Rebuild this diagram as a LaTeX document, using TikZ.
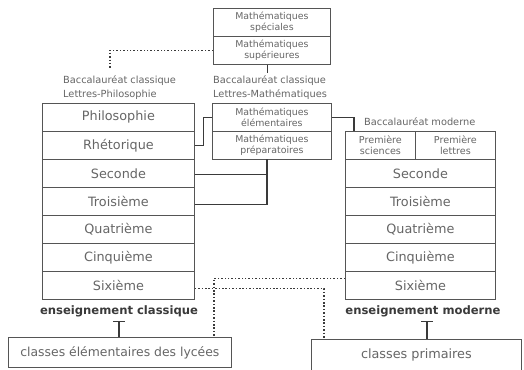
\documentclass[tikz,border=0pt]{standalone}
\usepackage{fontspec}
\setmainfont{DejaVu Sans}
\usetikzlibrary{arrows.meta}
\definecolor{txt}{HTML}{666666}
\definecolor{ln}{HTML}{555555}
\definecolor{dk}{HTML}{3A3A3A}
\begin{document}
\begin{tikzpicture}[x=1pt,y=-1pt,
  cell/.style={draw=ln, line width=0.8pt, minimum height=28pt, inner sep=0pt,
    anchor=north west, text=txt, font=\fontsize{12.8}{14}\selectfont},
  mcell/.style={cell, align=center, font=\fontsize{9.4}{10.8}\selectfont},
  pcell/.style={cell, align=center, font=\fontsize{9.6}{11}\selectfont},
  lbl/.style={text=txt, align=left, inner sep=0pt, font=\fontsize{9.8}{14}\selectfont},
  big/.style={text=dk, inner sep=0pt, font=\fontsize{11.6}{14}\selectfont\bfseries},
  conn/.style={draw=dk, line width=1.3pt},
  dots/.style={draw=dk, line width=1.5pt, dash pattern=on 1.5pt off 1.9pt},
  tee/.style={draw=dk, line width=1.3pt, {Bar[width=12pt,line width=1.3pt]}-}]
\useasboundingbox[fill=white] (0,0) rectangle (524,369);

% top box
\node[mcell, minimum width=117pt] (spec) at (213,8) {Mathématiques\\spéciales};
\node[mcell, minimum width=117pt] (sup) at (213,36) {Mathématiques\\supérieures};

% labels
\node[lbl, anchor=west] (bacL) at (63,88) {Baccalauréat classique\\Lettres-Philosophie};
\node[lbl, anchor=west] (bacM) at (213,88) {Baccalauréat classique\\Lettres-Mathématiques};
\node[lbl, anchor=west] (bacR) at (364,122) {Baccalauréat moderne};

% left (classique) box
\node[cell, minimum width=152pt] (philo) at (42,103) {Philosophie};
\node[cell, minimum width=152pt] (rhet) at (42,131) {Rhétorique};
\node[cell, minimum width=152pt] (secL) at (42,159) {Seconde};
\node[cell, minimum width=152pt] (troisL) at (42,187) {Troisième};
\node[cell, minimum width=152pt] (quatL) at (42,215) {Quatrième};
\node[cell, minimum width=152pt] (cinqL) at (42,243) {Cinquième};
\node[cell, minimum width=152pt] (sixL) at (42,271) {Sixième};

% middle box
\node[mcell, minimum width=119pt] (elem) at (212,103) {Mathématiques\\élémentaires};
\node[mcell, minimum width=119pt] (prep) at (212,131) {Mathématiques\\préparatoires};

% right (moderne) box
\node[pcell, minimum width=70pt] (psci) at (345,131) {Première\\sciences};
\node[pcell, minimum width=80pt] (plet) at (415,131) {Première\\lettres};
\node[cell, minimum width=150pt] (secR) at (345,159) {Seconde};
\node[cell, minimum width=150pt] (troisR) at (345,187) {Troisième};
\node[cell, minimum width=150pt] (quatR) at (345,215) {Quatrième};
\node[cell, minimum width=150pt] (cinqR) at (345,243) {Cinquième};
\node[cell, minimum width=150pt] (sixR) at (345,271) {Sixième};

% section titles
\node[big] (ensC) at (119,311) {enseignement classique};
\node[big] (ensM) at (423,311) {enseignement moderne};

% bottom boxes
\node[cell, minimum width=223pt, minimum height=30pt, font=\fontsize{12.4}{14}\selectfont] (elyc) at (8,337) {classes élémentaires des lycées};
\node[cell, minimum width=210pt, minimum height=32pt] (prim) at (311,339) {classes primaires};

% coordinates
\coordinate (stem) at (267,73);
\coordinate (dl) at (110,68);
\coordinate (pk) at (267,159);
\coordinate (tl) at (119,321);
\coordinate (tr) at (427,321);

% connectors
\draw[conn, line width=1pt] (sup.south -| stem) -- (stem);
\draw[dots] (sup.west) -| (dl);
\draw[conn] (rhet.east) -- ++(9,0) |- (elem.west);
\draw[conn] (pk) |- ([yshift=-3pt]troisL.east);
\draw[conn] ([yshift=-1pt]secL.east) -- ([yshift=-1pt]secL.east -| pk);
\draw[conn] (elem.east) -| ([xshift=9pt]psci.north west);
\draw[dots] ([yshift=-3pt]sixL.east) -| ([xshift=13pt]prim.north west);
\draw[dots] ([yshift=7pt]sixR.west) -| ([xshift=-18pt]elyc.north east);
\draw[tee] (tl) -- (tl |- elyc.north);
\draw[tee] (tr) -- (tr |- prim.north);
\end{tikzpicture}
\end{document}
